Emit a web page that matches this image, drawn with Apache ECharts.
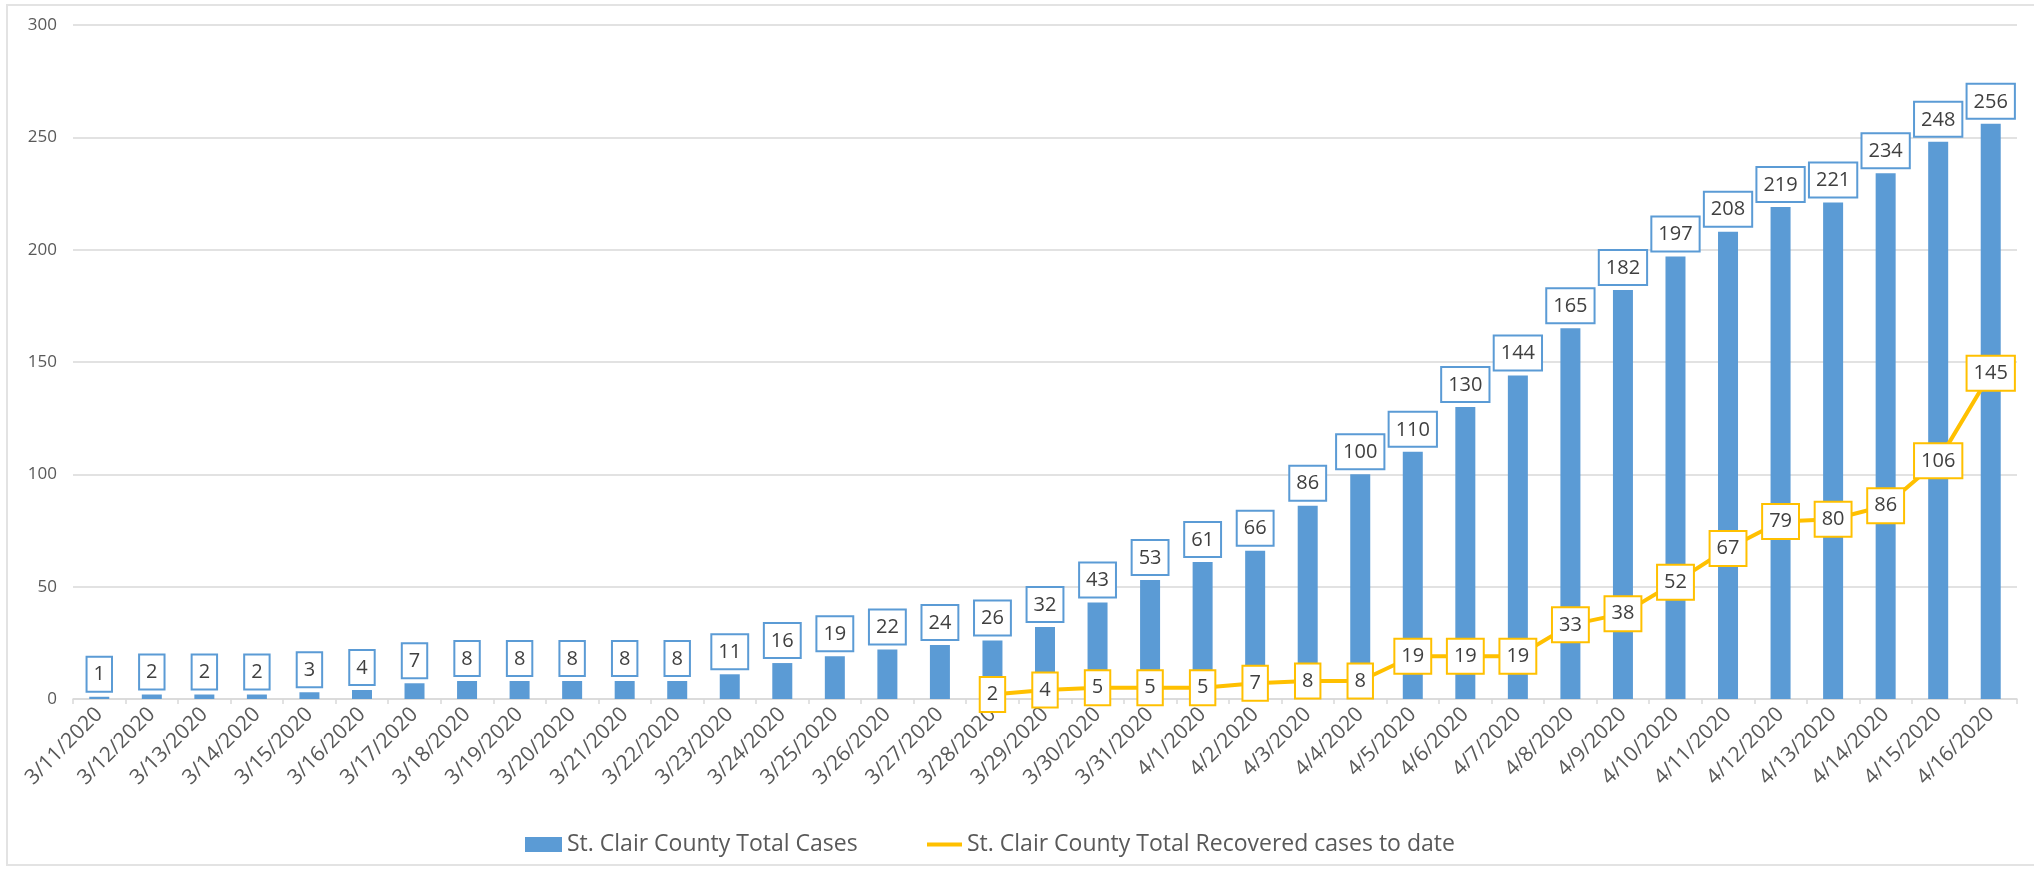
<!DOCTYPE html>
<html>
<head>
<meta charset="utf-8">
<script src="https://cdn.jsdelivr.net/npm/echarts@6/dist/echarts.min.js"></script>
<style>
html,body{margin:0;padding:0;background:#fff;}
#frame{position:absolute;left:6px;top:4px;width:2040px;height:862px;border:2px solid #e3e3e3;box-sizing:border-box;}
#chart{position:absolute;left:0;top:0;width:2034px;height:871px;}
</style>
</head>
<body>
<div id="frame"></div>
<div id="chart"></div>
<script>
const categories = ['3/11/2020','3/12/2020','3/13/2020','3/14/2020','3/15/2020','3/16/2020','3/17/2020','3/18/2020','3/19/2020','3/20/2020','3/21/2020','3/22/2020','3/23/2020','3/24/2020','3/25/2020','3/26/2020','3/27/2020','3/28/2020','3/29/2020','3/30/2020','3/31/2020','4/1/2020','4/2/2020','4/3/2020','4/4/2020','4/5/2020','4/6/2020','4/7/2020','4/8/2020','4/9/2020','4/10/2020','4/11/2020','4/12/2020','4/13/2020','4/14/2020','4/15/2020','4/16/2020'];
const totalCases = [1,2,2,2,3,4,7,8,8,8,8,8,11,16,19,22,24,26,32,43,53,61,66,86,100,110,130,144,165,182,197,208,219,221,234,248,256];
const recovered = [null,null,null,null,null,null,null,null,null,null,null,null,null,null,null,null,null,2,4,5,5,5,7,8,8,19,19,19,33,38,52,67,79,80,86,106,145];
const yTicks = [0,50,100,150,200,250,300];
const seriesNames = ['St. Clair County Total Cases','St. Clair County Total Recovered cases to date'];

const FONT = '"Open Sans", sans-serif';
const chart = echarts.init(document.getElementById('chart'));
chart.setOption({
  animation:false,
  textStyle:{fontFamily:FONT},
  grid:{left:73,right:17,top:25,bottom:172,containLabel:false},
  legend:[
    {data:[{name:seriesNames[0],icon:'rect'}],left:520,top:828,itemWidth:37,itemHeight:15,itemGap:10,
     textStyle:{fontFamily:FONT,fontSize:23,color:'#595959'}},
    {data:[{name:seriesNames[1],icon:'rect'}],left:922,top:828,itemWidth:35,itemHeight:4,
     textStyle:{fontFamily:FONT,fontSize:23,color:'#595959'}}
  ],
  xAxis:{
    type:'category',data:categories,
    axisLine:{lineStyle:{color:'#d9d9d9',width:1.5}},
    axisTick:{show:true,alignWithLabel:false,length:5,lineStyle:{color:'#d9d9d9',width:1.5}},
    axisLabel:{rotate:45,interval:0,margin:12,fontSize:21,color:'#595959',fontFamily:FONT}
  },
  yAxis:{
    type:'value',min:yTicks[0],max:yTicks[yTicks.length-1],interval:50,
    axisLine:{show:false},axisTick:{show:false},
    splitLine:{lineStyle:{color:'#d9d9d9',width:1.5}},
    axisLabel:{fontSize:17,color:'#595959',margin:16,fontFamily:FONT}
  },
  series:[
    {
      name:seriesNames[0],type:'bar',data:totalCases,barWidth:20,
      itemStyle:{color:'#5b9bd5'},
      label:{show:true,position:'top',distance:6,fontSize:20,color:'#404040',fontFamily:FONT,
        backgroundColor:'#fff',borderColor:'#5b9bd5',borderWidth:2,padding:[5,6,4,6],lineHeight:24}
    },
    {
      name:seriesNames[1],type:'line',data:recovered,connectNulls:false,
      symbol:'circle',symbolSize:2,showSymbol:true,
      lineStyle:{color:'#ffc000',width:4},itemStyle:{color:'#ffc000'},
      label:{show:true,position:'inside',fontSize:20,color:'#404040',fontFamily:FONT,
        backgroundColor:'#fff',borderColor:'#ffc000',borderWidth:2,padding:[5,6,4,6],lineHeight:24},
      z:5
    }
  ]
});
</script>
</body>
</html>
